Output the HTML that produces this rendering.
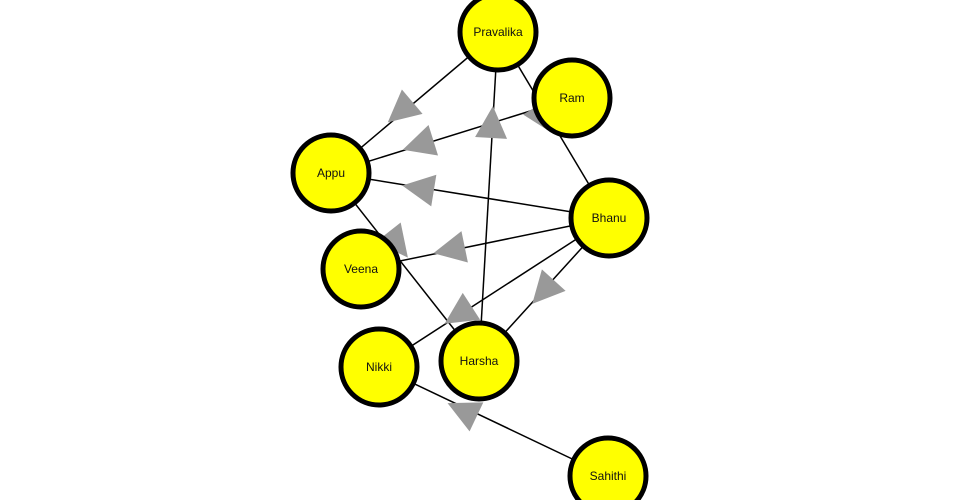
<!DOCTYPE html>
<html><head><meta charset="utf-8"><style>
html,body{margin:0;padding:0;background:#fff;width:960px;height:500px;overflow:hidden}
svg text{font-family:"Liberation Sans","DejaVu Sans",sans-serif;font-size:12px}
</style></head><body>
<svg id="s" width="960" height="500" viewBox="0 0 960 500" xmlns="http://www.w3.org/2000/svg">
<g id="edges" stroke="#000" stroke-width="1.5"></g>
<g id="arrows" fill="#999"></g>
<g id="nodes"></g>
</svg>
<script>
var N={Pravalika:[498,32],Ram:[572,98],Appu:[331,173],Bhanu:[609,218],Veena:[361,269],Nikki:[379,367],Harsha:[479,361],Sahithi:[608,476]};
var E=[["Pravalika","Appu",[400,112]],["Ram","Appu",[418,145]],["Harsha","Pravalika",[492,122]],["Bhanu","Appu",[418,188]],["Pravalika","Bhanu",[545,120]],["Bhanu","Veena",[449,250]],["Appu","Harsha",[398,245]],["Bhanu","Nikki",[458,315]],["Bhanu","Harsha",[543,292]],["Sahithi","Nikki",[462,410]]];
var ns="http://www.w3.org/2000/svg";
function el(t,a,p){var e=document.createElementNS(ns,t);for(var k in a)e.setAttribute(k,a[k]);p.appendChild(e);return e;}
var ge=document.getElementById("edges"),ga=document.getElementById("arrows"),gn=document.getElementById("nodes");
E.forEach(function(e){var a=N[e[0]],b=N[e[1]],c=e[2];
el("line",{x1:a[0],y1:a[1],x2:b[0],y2:b[1]},ge);
var dx=b[0]-a[0],dy=b[1]-a[1],l=Math.hypot(dx,dy);dx/=l;dy/=l;var px=-dy,py=dx;
var s=16,w=16;
var pts=[[c[0]+dx*s,c[1]+dy*s],[c[0]-dx*s+px*w,c[1]-dy*s+py*w],[c[0]-dx*s-px*w,c[1]-dy*s-py*w]];
el("polygon",{points:pts.map(function(p){return p.join(",")}).join(" ")},ga);});
for(var k in N){var p=N[k];el("circle",{cx:p[0],cy:p[1],r:38,fill:"#ff0",stroke:"#000","stroke-width":5},gn);
var t=el("text",{x:p[0],y:p[1]+4,"text-anchor":"middle",fill:"#111"},gn);t.textContent=k;}
</script>
</body></html>
